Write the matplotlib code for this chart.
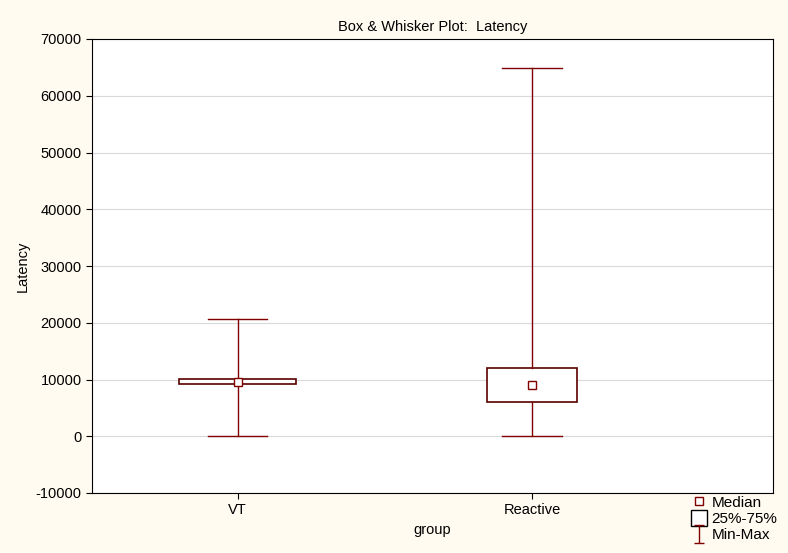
import matplotlib
matplotlib.use('Agg')
from matplotlib import pyplot as plt
from matplotlib.lines import Line2D
from matplotlib.path import Path

plt.rcParams['font.family'] = ['Liberation Sans', 'DejaVu Sans']
plt.rcParams['axes.unicode_minus'] = False

groups = ['VT', 'Reactive']
mins = [0, 0]
q1 = [9290, 6110]
medians = [9550, 9110]
q3 = [10170, 12100]
maxs = [20600, 64900]

positions = [0.214, 0.646]
box_widths = [0.172, 0.131]
cap_widths = [0.087, 0.088]

line_col = '#800000'
box_col = '#5a0000'
bg = '#fffbf0'

fig = plt.figure(figsize=(7.88, 5.53), dpi=100, facecolor=bg)
ax = fig.add_axes([92/788, 60/553, 681/788, 454/553])

stats = []
for g, lo, a, m, b, hi in zip(groups, mins, q1, medians, q3, maxs):
    stats.append(dict(label=g, whislo=lo, q1=a, med=m, mean=m, q3=b, whishi=hi, fliers=[]))

ax.bxp(stats, positions=positions, widths=box_widths, capwidths=cap_widths,
       showmeans=True, patch_artist=True,
       boxprops=dict(facecolor='white', edgecolor=box_col, linewidth=1.2),
       whiskerprops=dict(color=line_col, linewidth=1),
       capprops=dict(color=line_col, linewidth=1),
       medianprops=dict(linewidth=0),
       meanprops=dict(marker='s', markersize=6, markerfacecolor='white',
                      markeredgecolor=line_col, markeredgewidth=1))

ax.set_xlim(0, 1)
ax.set_ylim(-10000, 70000)
ax.set_yticks(range(-10000, 70001, 10000))
ax.set_xticks(positions)
ax.set_xticklabels(groups)
ax.yaxis.grid(True, color='#d9d9d9', linewidth=0.8)
ax.set_axisbelow(True)
ax.tick_params(labelsize=10.5, direction='out', length=4)
ax.set_title('Box & Whisker Plot:  Latency', fontsize=10.5)
ax.set_xlabel('group', fontsize=10.5)
ax.set_ylabel('Latency', fontsize=10.5)

i_marker = Path([(-0.5, 1), (0.5, 1), (0, 1), (0, -1), (-0.5, -1), (0.5, -1)],
                [Path.MOVETO, Path.LINETO, Path.MOVETO, Path.LINETO, Path.MOVETO, Path.LINETO])
handles = [
    Line2D([], [], linestyle='none', marker='s', markersize=6, markerfacecolor='white',
           markeredgecolor=line_col),
    Line2D([], [], linestyle='none', marker='s', markersize=11, markerfacecolor='white',
           markeredgecolor='black'),
    Line2D([], [], linestyle='none', marker=i_marker, markersize=13, color=line_col,
           markeredgewidth=1, fillstyle='none'),
]
fig.legend(handles, ['Median', '25%-75%', 'Min-Max'], loc='lower right',
           bbox_to_anchor=(1.0, 0.0), frameon=False, fontsize=11,
           handlelength=0.8, handletextpad=0.4, labelspacing=0.15, borderpad=0.2)

fig.savefig('out.png', dpi=100, facecolor=bg)
